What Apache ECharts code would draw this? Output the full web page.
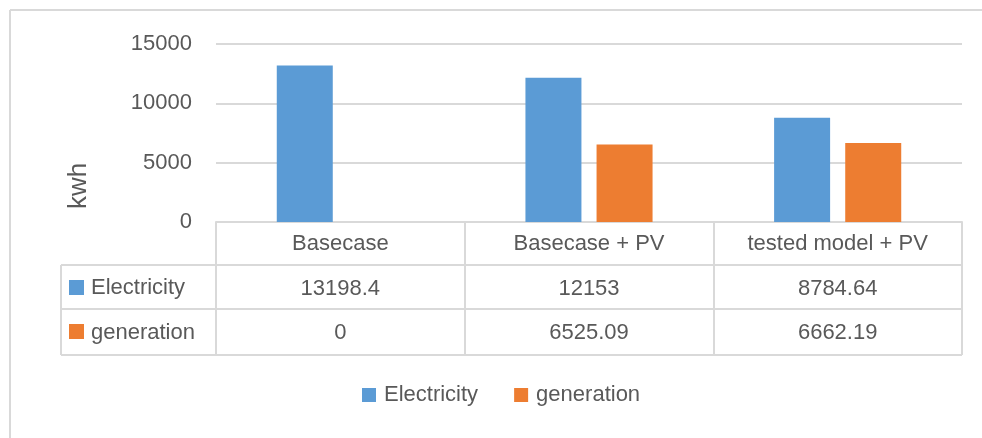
<!DOCTYPE html>
<html>
<head>
<meta charset="utf-8">
<script src="https://cdn.jsdelivr.net/npm/echarts@6/dist/echarts.min.js"></script>
<style>
  html, body { margin: 0; padding: 0; background: #fff; }
  #chart { width: 982px; height: 438px; }
</style>
</head>
<body>
<div id="chart"></div>
<script>
// Annual energy: consumption vs PV generation per scenario
const categories = ['Basecase', 'Basecase + PV', 'tested model + PV'];
const seriesNames = ['Electricity', 'generation'];
const electricity = [13198.4, 12153, 8784.64];
const generation = [0, 6525.09, 6662.19];
const yTicks = [0, 5000, 10000, 15000];

const BLUE = '#5b9bd5';
const ORANGE = '#ed7d31';
const TEXT = '#595959';
const LINE = '#d9d9d9';
const FONT = '"Liberation Sans", Arial, sans-serif';
const FS = 22;

const chart = echarts.init(document.getElementById('chart'), null, { renderer: 'canvas' });

// grid edges (pixels)
const GL = 216, GR = 962, GT = 44, GB = 222;
const ROW1 = 265, ROW2 = 309, ROW3 = 355, TL = 61;

const hiddenAxis = (vals, offset) => ({
  type: 'category',
  data: vals.map(v => String(v)),
  position: 'bottom',
  offset: offset,
  axisLine: { show: false },
  axisTick: { show: false },
  axisLabel: { color: TEXT, fontSize: FS, fontFamily: FONT, margin: 13, interval: 0 },
  splitLine: { show: false }
});

const option = {
  backgroundColor: '#fff',
  animation: false,
  grid: { left: GL, right: 982 - GR, top: GT, bottom: 438 - GB },
  legend: {
    data: seriesNames,
    left: 362,
    top: 384,
    padding: 0,
    icon: 'rect',
    itemWidth: 14,
    itemHeight: 14,
    itemGap: 36,
    textStyle: { color: TEXT, fontSize: FS, fontFamily: FONT, padding: [0, 0, 0, 3] }
  },
  xAxis: [
    {
      type: 'category',
      data: categories,
      position: 'bottom',
      axisLine: { show: true, lineStyle: { color: LINE, width: 2 } },
      axisTick: { show: true, length: ROW3 - GB, lineStyle: { color: LINE, width: 2 } },
      axisLabel: { color: TEXT, fontSize: FS, fontFamily: FONT, margin: 11, interval: 0 },
      splitLine: { show: false }
    },
    hiddenAxis(electricity, ROW1 - GB),
    hiddenAxis(generation, ROW2 - GB)
  ],
  yAxis: {
    type: 'value',
    min: yTicks[0],
    max: yTicks[yTicks.length - 1],
    interval: yTicks[1] - yTicks[0],
    axisLine: { show: false },
    axisTick: { show: false },
    axisLabel: { color: TEXT, fontSize: FS, fontFamily: FONT, margin: 24, formatter: v => String(v) },
    splitLine: { lineStyle: { color: LINE, width: 2 } }
  },
  series: [
    {
      name: seriesNames[0], type: 'bar', xAxisIndex: 0, data: electricity,
      itemStyle: { color: BLUE }, barWidth: 56, barGap: '27%'
    },
    {
      name: seriesNames[1], type: 'bar', xAxisIndex: 0, data: generation,
      itemStyle: { color: ORANGE }, barWidth: 56, barGap: '27%'
    }
  ],
  graphic: [
    // chart frame (left and top edges)
    { type: 'line', shape: { x1: 10, y1: 10, x2: 982, y2: 10 }, style: { stroke: LINE, lineWidth: 2 } },
    { type: 'line', shape: { x1: 10, y1: 10, x2: 10, y2: 438 }, style: { stroke: LINE, lineWidth: 2 } },
    // data table rules
    { type: 'line', shape: { x1: TL, y1: ROW1, x2: GR, y2: ROW1 }, style: { stroke: LINE, lineWidth: 2 } },
    { type: 'line', shape: { x1: TL, y1: ROW2, x2: GR, y2: ROW2 }, style: { stroke: LINE, lineWidth: 2 } },
    { type: 'line', shape: { x1: TL, y1: ROW3, x2: GR, y2: ROW3 }, style: { stroke: LINE, lineWidth: 2 } },
    { type: 'line', shape: { x1: TL, y1: ROW1, x2: TL, y2: ROW3 }, style: { stroke: LINE, lineWidth: 2 } },
    // row keys
    { type: 'rect', shape: { x: 69, y: 280, width: 15, height: 15 }, style: { fill: BLUE } },
    { type: 'text', x: 91, y: (ROW1 + ROW2) / 2 + 1, style: { text: seriesNames[0], fill: TEXT, fontSize: FS, fontFamily: FONT, verticalAlign: 'middle' } },
    { type: 'rect', shape: { x: 69, y: 324, width: 15, height: 15 }, style: { fill: ORANGE } },
    { type: 'text', x: 91, y: (ROW2 + ROW3) / 2 + 1, style: { text: seriesNames[1], fill: TEXT, fontSize: FS, fontFamily: FONT, verticalAlign: 'middle' } },
    // axis title
    { type: 'text', x: 79, y: 186, rotation: Math.PI / 2, style: { text: 'kwh', fill: TEXT, fontSize: 26, fontFamily: FONT, align: 'center', verticalAlign: 'middle' } }
  ]
};

chart.setOption(option);
</script>
</body>
</html>
